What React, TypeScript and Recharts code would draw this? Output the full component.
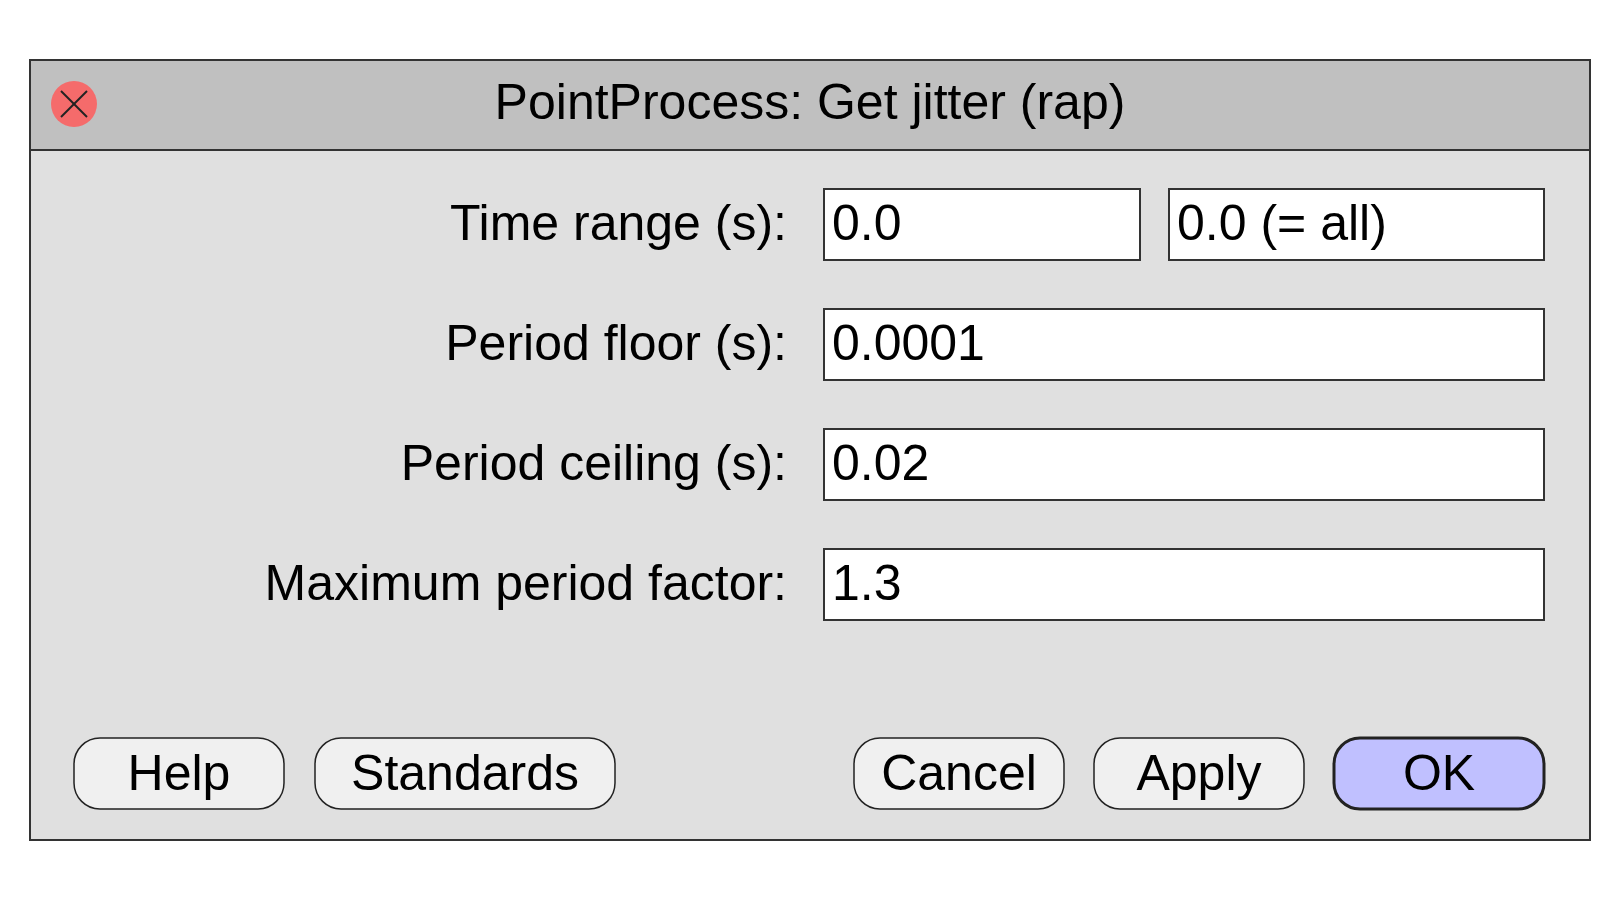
import { Surface, Rectangle, Text } from "recharts";

const title = "PointProcess: Get jitter (rap)";
const fieldLabels = ["Time range (s):", "Period floor (s):", "Period ceiling (s):", "Maximum period factor:"];
const fieldValues = [["0.0", "0.0 (= all)"], ["0.0001"], ["0.02"], ["1.3"]];
const buttonLabels = ["Help", "Standards", "Cancel", "Apply", "OK"];
const buttonX = [[74, 284], [315, 615], [854, 1064], [1094, 1304], [1334, 1544]];

const font = "Liberation Sans, Arial, sans-serif";
const fs = 50;
const rowTop = [189, 309, 429, 549];

export default function App() {
  return (
    <div style={{ position: "absolute", left: 0, top: 0, width: 1620, height: 900, background: "#fff" }}>
      <Surface width={1620} height={900} viewBox={{ x: 0, y: 0, width: 1620, height: 900 }}>
        <rect x={30} y={60} width={1560} height={780} fill="#e0e0e0" stroke="#333" strokeWidth={2} />
        <rect x={30} y={60} width={1560} height={90} fill="#c0c0c0" stroke="#333" strokeWidth={2} />
        <circle cx={74} cy={104} r={23} fill="#f56b6b" />
        <line x1={61} y1={91} x2={87} y2={117} stroke="#222" strokeWidth={2} />
        <line x1={87} y1={91} x2={61} y2={117} stroke="#222" strokeWidth={2} />
        <Text x={810} y={101} textAnchor="middle" verticalAnchor="middle" fontFamily={font} fontSize={fs} fill="#000">
          {title}
        </Text>
        {fieldLabels.map((label, i) => {
          const top = rowTop[i];
          const vals = fieldValues[i];
          const boxes = vals.length === 2 ? [[824, 1140], [1169, 1544]] : [[824, 1544]];
          return (
            <g key={label}>
              <Text x={787} y={top + 33} textAnchor="end" verticalAnchor="middle" fontFamily={font} fontSize={fs} fill="#000">
                {label}
              </Text>
              {boxes.map(([x0, x1], j) => (
                <g key={j}>
                  <rect x={x0} y={top} width={x1 - x0} height={71} fill="#fff" stroke="#333" strokeWidth={2} />
                  <Text x={x0 + 8} y={top + 33} verticalAnchor="middle" fontFamily={font} fontSize={fs} fill="#000">
                    {vals[j]}
                  </Text>
                </g>
              ))}
            </g>
          );
        })}
        {buttonLabels.map((label, i) => {
          const [x0, x1] = buttonX[i];
          const ok = label === "OK";
          return (
            <g key={label}>
              <Rectangle
                x={x0}
                y={738}
                width={x1 - x0}
                height={71}
                radius={26}
                fill={ok ? "#c0c0ff" : "#f0f0f0"}
                stroke="#222"
                strokeWidth={ok ? 3 : 1.5}
              />
              <Text x={(x0 + x1) / 2} y={772} textAnchor="middle" verticalAnchor="middle" fontFamily={font} fontSize={fs} fill="#000">
                {label}
              </Text>
            </g>
          );
        })}
      </Surface>
    </div>
  );
}
